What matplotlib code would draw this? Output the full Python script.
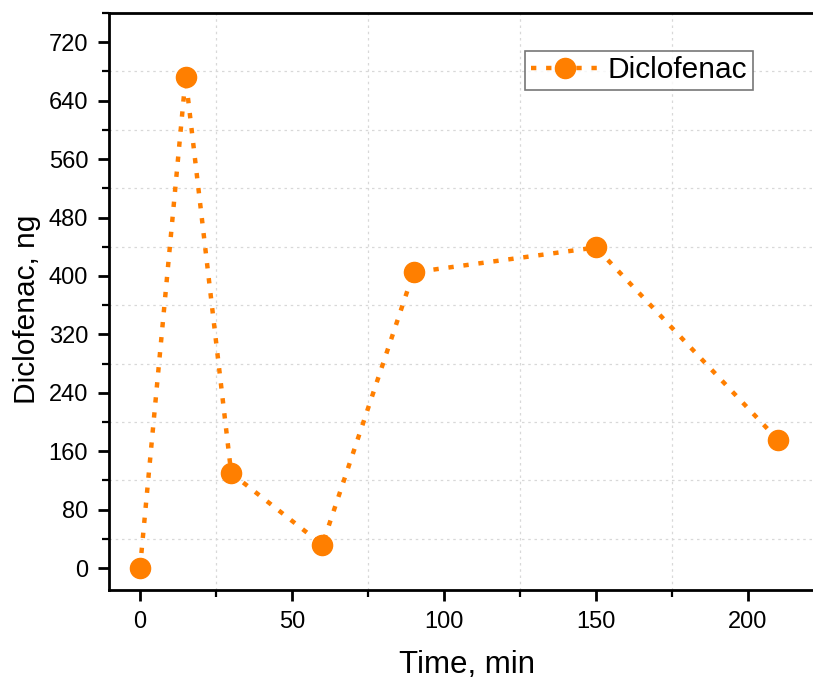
import numpy as np
import matplotlib
matplotlib.use("Agg")
import matplotlib.pyplot as plt
from matplotlib.ticker import MultipleLocator

plt.rcParams["font.family"] = ["Liberation Sans", "DejaVu Sans"]

time_min = [0, 15, 30, 60, 90, 150, 210]
diclofenac_ng = [0, 672, 130, 32, 405, 439, 175]

ORANGE = "#FF7F00"

fig = plt.figure(figsize=(8.13, 6.79), dpi=100)
ax = fig.add_axes([109 / 813, 89 / 679, 704 / 813, 577 / 679])

ax.plot(time_min, diclofenac_ng, color=ORANGE, lw=3.2, ls=(0, (1.2, 2.2)),
        dash_capstyle="butt", marker="o", ms=14.5, mec=ORANGE, mfc=ORANGE,
        label="Diclofenac")

ax.set_xlim(-10.2, 221.4)
ax.set_ylim(-30, 760)
ax.xaxis.set_major_locator(MultipleLocator(50))
ax.xaxis.set_minor_locator(MultipleLocator(25))
ax.yaxis.set_major_locator(MultipleLocator(80))
ax.yaxis.set_minor_locator(MultipleLocator(40))

# Origin-style grid on minor ticks only
ax.grid(which="minor", color="#d8d8d8", ls=(0, (2, 3)), lw=0.9)
ax.grid(which="major", visible=False)

for s in ("left", "bottom", "top"):
    ax.spines[s].set_linewidth(2)
ax.spines["right"].set_visible(False)

ax.tick_params(which="major", direction="out", length=8, width=2,
               labelsize=17, pad=7, top=False, right=False)
ax.tick_params(which="minor", direction="out", length=5, width=1.6,
               top=False, right=False)

ax.set_xlabel("Time, min", fontsize=22.5)
ax.set_ylabel("Diclofenac, ng", fontsize=21.5)
ax.xaxis.set_label_coords(0.508, -0.104)
ax.yaxis.set_label_coords(-0.097, 0.487)

leg = ax.legend(loc="upper left", bbox_to_anchor=(0.591, 0.935), fontsize=21.5,
                frameon=True, fancybox=False, edgecolor="#555555",
                handlelength=2.3, handletextpad=0.25, borderpad=0.2,
                borderaxespad=0)
leg.get_frame().set_linewidth(1.2)

fig.savefig("out.png", dpi=100)
